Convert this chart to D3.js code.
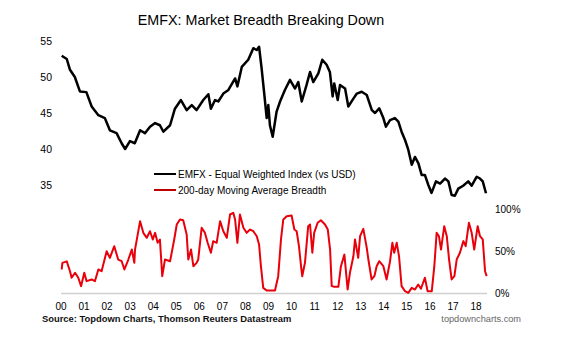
<!DOCTYPE html>
<html>
<head>
<meta charset="utf-8">
<script src="https://cdn.jsdelivr.net/npm/d3@7"></script>
<style>
  html, body { margin: 0; padding: 0; background: #fff; }
  svg { display: block; font-family: "Liberation Sans", Arial, sans-serif; }
</style>
</head>
<body>
<svg id="chart" width="568" height="340"></svg>
<script>
// ---- Data ----
const title = "EMFX: Market Breadth Breaking Down";
const xTickYears = [2000,2001,2002,2003,2004,2005,2006,2007,2008,2009,2010,2011,2012,2013,2014,2015,2016,2017,2018];
const xTickLabels = ["00","01","02","03","04","05","06","07","08","09","10","11","12","13","14","15","16","17","18"];
const leftTicks = [35, 40, 45, 50, 55];
const rightTicks = [0, 50, 100];
const rightTickLabels = ["0%", "50%", "100%"];
const seriesNames = ["EMFX - Equal Weighted Index (vs USD)", "200-day Moving Average Breadth"];

const emfxYears = [2000.03,2000.25,2000.39,2000.6,2000.82,2001.1,2001.33,2001.62,2001.9,2002.12,2002.41,2002.63,2002.78,2002.99,2003.2,2003.43,2003.64,2003.86,2004.08,2004.29,2004.44,2004.73,2004.94,2005.2,2005.45,2005.67,2005.88,2006.17,2006.39,2006.5,2006.68,2006.82,2007.04,2007.26,2007.55,2007.65,2007.84,2008.12,2008.34,2008.49,2008.59,2008.7,2008.82,2008.92,2008.99,2009.06,2009.18,2009.35,2009.5,2009.71,2009.93,2010.15,2010.29,2010.44,2010.65,2010.8,2010.94,2011.16,2011.33,2011.52,2011.66,2011.78,2011.85,2012.0,2012.1,2012.32,2012.46,2012.68,2012.83,2013.04,2013.26,2013.48,2013.62,2013.8,2013.98,2014.09,2014.27,2014.48,2014.63,2014.77,2014.92,2015.06,2015.21,2015.35,2015.5,2015.64,2015.78,2015.93,2016.07,2016.26,2016.44,2016.65,2016.8,2016.94,2017.08,2017.23,2017.44,2017.66,2017.81,2018.03,2018.17,2018.29,2018.43];
const emfxValues = [52.96,52.5,51.0,50.0,48.0,47.9,45.9,44.7,44.3,42.6,42.2,40.8,40.0,41.1,40.8,42.6,42.2,43.1,43.6,43.3,42.4,43.3,45.6,46.8,45.4,46.1,45.4,46.8,47.6,45.6,46.8,46.6,47.7,48.2,49.8,48.7,51.4,52.4,54.0,53.75,54.2,51.2,47.5,44.3,46.1,43.3,41.7,45.2,46.6,48.2,49.6,48.4,49.3,46.6,48.9,50.7,49.3,50.5,52.4,51.7,50.7,47.3,49.1,46.8,48.9,48.4,45.9,47.0,47.7,47.95,47.5,45.4,45.0,45.65,44.3,43.1,44.0,44.3,43.8,42.4,41.25,39.9,37.8,38.9,38.0,36.4,36.4,35.0,33.9,35.5,35.2,35.9,35.5,33.6,33.5,34.5,34.9,35.5,34.9,36.15,35.9,35.5,33.85];

const breadthYears = [2000.03,2000.06,2000.25,2000.39,2000.46,2000.61,2000.75,2000.87,2001.01,2001.11,2001.33,2001.47,2001.62,2001.76,2001.98,2002.12,2002.31,2002.48,2002.63,2002.75,2002.92,2003.07,2003.18,2003.21,2003.43,2003.57,2003.72,2003.86,2003.98,2004.08,2004.19,2004.29,2004.39,2004.51,2004.73,2004.91,2005.02,2005.16,2005.30,2005.45,2005.52,2005.64,2005.74,2005.88,2005.95,2006.10,2006.24,2006.36,2006.50,2006.60,2006.75,2006.90,2007.04,2007.19,2007.33,2007.47,2007.55,2007.65,2007.76,2007.91,2008.05,2008.20,2008.34,2008.49,2008.59,2008.67,2008.77,2008.92,2009.28,2009.42,2009.54,2009.64,2009.79,2010.0,2010.12,2010.22,2010.32,2010.41,2010.46,2010.58,2010.72,2010.80,2010.90,2010.98,2011.13,2011.27,2011.45,2011.57,2011.67,2011.74,2011.85,2012.03,2012.14,2012.29,2012.43,2012.53,2012.68,2012.75,2012.89,2012.97,2013.11,2013.26,2013.33,2013.47,2013.59,2013.69,2013.80,2013.98,2014.12,2014.27,2014.37,2014.45,2014.56,2014.66,2014.77,2014.92,2015.06,2015.21,2015.35,2015.49,2015.61,2015.78,2015.90,2016.08,2016.19,2016.29,2016.39,2016.48,2016.62,2016.73,2016.83,2016.94,2017.06,2017.16,2017.30,2017.45,2017.55,2017.69,2017.81,2017.92,2018.07,2018.17,2018.29,2018.39,2018.46];
const breadthValues = [28.4,36.3,38,26.4,18.6,24.5,18.6,8.7,24.5,14.6,16.6,14.6,28.4,26.4,50,42.2,56,40.2,38.2,28.4,40.2,52,36.3,52,85.6,71.8,65.9,73.7,63.9,71.8,60,63.9,20.5,40.2,38.2,63.9,81.7,87.6,86.7,69.8,40.2,52,32.3,36.3,40,77.8,71.8,60,48.2,61.9,60,85.6,73.7,65.9,93.5,95.5,87.6,60,93.5,77.8,71.8,75.7,73.7,67.8,58,32.3,6.7,3.5,3.5,20.5,64,87.6,91.5,92.3,75.7,73.7,56,32.3,20.5,36.3,79.7,81.7,48.2,71.8,83.7,86.7,81.7,75.7,52,8.7,8,8,32.3,46,4.7,24.5,44,64,42.2,67.8,76.5,54,40.2,16.6,20.5,32.3,38.2,32.3,16.6,38.2,60,48.2,60,44,8.7,2.7,0.8,6.7,4.7,10.6,5.6,18.6,2.7,2.7,32.3,71.8,67.8,52,79.7,67.8,40.2,16.6,20.5,40.2,48.2,62,56,83.7,71.8,52,79.7,67.8,64,26.4,20.5];

// ---- Layout ----
const svg = d3.select("#chart");
const x = d3.scaleLinear().domain([2000, 2018.47]).range([61, 486.9]);
const yL = d3.scaleLinear().domain([35, 55]).range([185, 41]);
const yR = d3.scaleLinear().domain([0, 100]).range([293.5, 209]);

// Title
svg.append("text").attr("x", 261).attr("y", 25).attr("text-anchor", "middle")
  .attr("font-size", 14.3).attr("fill", "#000").text(title);

// Baseline of lower panel
svg.append("line").attr("x1", x(2000)).attr("x2", 487).attr("y1", yR(0)).attr("y2", yR(0))
  .attr("stroke", "#d0d0d0").attr("stroke-width", 1.5);

// Left axis labels
svg.append("g").selectAll("text").data(leftTicks).join("text")
  .attr("x", 52).attr("y", d => yL(d)).attr("dy", "0.35em").attr("text-anchor", "end")
  .attr("font-size", 10.5).text(d => d);

// Right axis labels
svg.append("g").selectAll("text").data(rightTicks).join("text")
  .attr("x", 495).attr("y", d => yR(d)).attr("dy", "0.35em").attr("text-anchor", "start")
  .attr("font-size", 10).text((d, i) => rightTickLabels[i]);

// X axis labels
svg.append("g").selectAll("text").data(xTickYears).join("text")
  .attr("x", d => x(d)).attr("y", 306).attr("dy", "0.35em").attr("text-anchor", "middle")
  .attr("font-size", 10).text((d, i) => xTickLabels[i]);

// Lines
const emfxData = emfxYears.map((t, i) => [t, emfxValues[i]]);
const breadthData = breadthYears.map((t, i) => [t, breadthValues[i]]);

svg.append("path").datum(breadthData)
  .attr("fill", "none").attr("stroke", "#e8000b").attr("stroke-width", 2).attr("stroke-linejoin", "round")
  .attr("d", d3.line().x(d => x(d[0])).y(d => yR(d[1])));

svg.append("path").datum(emfxData)
  .attr("fill", "none").attr("stroke", "#000").attr("stroke-width", 2.5).attr("stroke-linejoin", "round")
  .attr("d", d3.line().x(d => x(d[0])).y(d => yL(d[1])));

// Legend
const legendColors = ["#000", "#c00000"];
const lg = svg.append("g").selectAll("g").data(seriesNames).join("g")
  .attr("transform", (d, i) => `translate(154, ${174 + i * 16})`);
lg.append("line").attr("x1", 0).attr("x2", 22).attr("y1", 0).attr("y2", 0)
  .attr("stroke", (d, i) => legendColors[i]).attr("stroke-width", 2);
lg.append("text").attr("x", 24).attr("y", 0).attr("dy", "0.35em")
  .attr("font-size", 10).text(d => d);

// Footer
svg.append("text").attr("x", 42).attr("y", 322).attr("font-size", 9.4).attr("font-weight", "bold")
  .attr("fill", "#111").text("Source: Topdown Charts, Thomson Reuters Datastream");
svg.append("text").attr("x", 521).attr("y", 322).attr("text-anchor", "end").attr("font-size", 9.2)
  .attr("fill", "#666").text("topdowncharts.com");
</script>
</body>
</html>
